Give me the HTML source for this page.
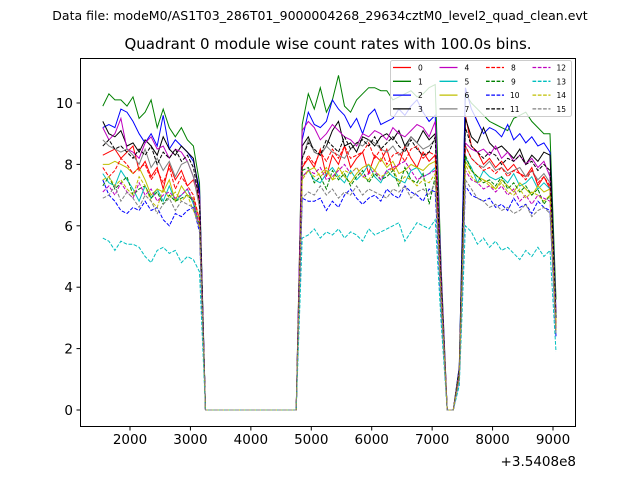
<!DOCTYPE html>
<html><head><meta charset="utf-8"><style>
body{margin:0;background:#fff;}
svg{display:block;font-family:"DejaVu Sans","Liberation Sans",sans-serif;}
</style></head><body>
<svg id="chart" width="640" height="480" viewBox="0 0 640 480">
<rect width="640" height="480" fill="#fff"/>
<text x="320" y="20" font-size="12.5" text-anchor="middle">Data file: modeM0/AS1T03_286T01_9000004268_29634cztM0_level2_quad_clean.evt</text>
<text x="328" y="49" font-size="15" text-anchor="middle">Quadrant 0 module wise count rates with 100.0s bins.</text>
<g id="plot"></g>
<g id="axes"></g>
<g id="legend"></g>
</svg>
<script>
// time bins (offset from 3.5408e8)
const startTime = 1550, binSize = 100, nBins = 76;
const xTicks = [2000,3000,4000,5000,6000,7000,8000,9000];
const yTicks = [0,2,4,6,8,10];
const seriesNames = ["0","1","2","3","4","5","6","7","8","9","10","11","12","13","14","15"];
const seriesColors = ["#ff0000","#008000","#0000ff","#000000","#bf00bf","#00bfbf","#bfbf00","#808080","#ff0000","#008000","#0000ff","#000000","#bf00bf","#00bfbf","#bfbf00","#808080"];
// segment 1: 1550..3150 ; segment 2: 4850..7050 ; segment 3: 7550..8950
const segA = [
[8.3,8.4,8.5,8.2,8.4,8.6,7.8,8.1,7.6,7.9,7.2,8.0,7.5,7.8,7.3,7.5,6.8],
[9.9,10.3,10.1,10.1,9.9,10.2,9.5,9.7,10.1,9.2,9.8,9.2,8.9,9.2,8.8,8.6,7.4],
[9.2,9.3,9.2,9.8,9.7,9.4,9.0,8.7,9.0,8.6,9.6,8.5,8.8,8.6,8.4,8.1,7.2],
[9.4,9.0,8.9,9.1,8.6,8.7,8.4,8.8,8.6,8.3,8.9,8.5,8.3,8.6,8.4,8.2,7.0],
[9.2,8.8,9.0,9.5,8.5,8.4,8.2,8.7,8.9,8.5,8.6,8.2,8.5,8.4,8.1,7.6,7.0],
[7.7,7.4,7.3,7.8,7.5,7.2,6.8,7.3,6.9,7.2,6.8,7.3,6.8,7.0,7.2,6.7,6.0],
[8.0,8.0,8.1,8.0,7.9,7.7,7.9,7.5,7.0,7.2,7.1,7.5,6.8,7.3,7.0,6.9,6.2],
[8.8,8.6,8.5,8.4,8.5,8.3,8.0,8.5,7.9,8.2,7.8,8.1,7.6,8.0,8.1,7.6,6.6],
[7.9,7.6,7.8,8.2,8.0,7.7,7.9,8.0,7.5,7.8,7.4,7.9,7.2,7.6,7.3,7.0,6.2],
[7.3,7.6,7.2,7.4,7.6,7.0,7.2,7.3,6.9,7.1,6.7,7.0,6.8,6.9,7.0,6.8,6.0],
[7.5,7.0,6.8,6.5,6.4,6.6,6.5,6.8,6.5,6.6,6.2,6.0,6.4,6.3,6.5,6.6,5.8],
[8.6,8.8,8.5,8.6,8.4,8.2,8.5,8.3,8.6,8.0,8.4,8.2,8.5,8.1,8.3,7.9,6.8],
[7.1,7.3,7.0,7.4,7.1,6.9,7.4,7.0,7.2,6.8,7.0,7.1,6.9,7.0,7.2,6.8,6.0],
[5.6,5.5,5.2,5.5,5.4,5.4,5.3,5.0,4.8,5.2,5.3,5.1,5.2,4.8,5.0,4.9,4.5],
[7.5,7.6,7.3,7.5,7.2,7.0,7.6,7.3,6.8,6.6,7.2,6.9,7.1,6.8,7.0,6.5,6.0],
[6.9,7.0,7.3,6.8,7.1,6.9,6.6,7.0,6.8,6.4,6.7,6.9,6.5,6.8,6.7,6.6,5.9]];
const segB = [
[7.9,8.2,7.9,8.5,7.6,8.3,8.0,8.6,7.9,8.2,8.4,7.7,8.3,8.1,8.5,7.8,8.0,8.6,8.2,7.9,8.4,8.1,8.3],
[9.3,10.3,9.8,10.5,9.7,10.1,10.9,9.9,9.7,10.1,10.3,10.5,10.5,10.4,10.4,10.1,10.2,10.3,10.4,10.2,10.3,10.5,10.6],
[8.8,9.7,9.3,9.2,9.4,10.1,9.8,9.6,9.2,9.5,9.0,9.6,9.8,9.3,9.4,9.5,9.8,9.6,9.9,10.1,9.7,9.4,9.6],
[8.6,8.9,8.4,8.3,8.6,9.1,9.4,8.6,8.7,8.4,8.9,8.8,8.6,8.9,9.0,8.8,9.1,8.6,8.9,8.7,9.1,8.8,9.0],
[9.1,9.4,9.2,8.8,9.0,9.3,9.1,8.9,8.8,8.6,9.0,8.9,9.1,9.0,8.8,9.2,9.0,8.9,9.1,9.3,9.2,8.9,9.4],
[7.6,7.8,7.5,7.4,7.7,7.9,7.6,7.4,7.8,7.5,7.7,8.0,7.6,7.4,7.8,7.6,7.5,7.4,7.8,7.9,7.6,7.7,7.9],
[7.6,7.8,7.9,7.6,7.8,7.5,7.9,7.6,7.4,7.7,7.9,8.0,7.8,8.2,7.9,8.1,7.7,7.8,8.0,7.9,7.8,8.0,8.1],
[8.2,8.8,8.4,8.3,8.6,8.4,8.3,8.2,8.5,8.7,8.6,8.8,8.7,8.5,8.4,8.6,8.3,8.5,8.9,8.7,8.5,8.6,8.8],
[7.9,8.3,8.0,8.4,8.1,8.5,8.2,8.6,8.2,8.3,8.4,8.7,8.2,8.5,8.0,8.3,8.4,8.1,8.5,8.6,8.2,8.4,8.3],
[7.8,7.9,7.4,7.6,7.2,7.8,7.5,7.7,7.3,7.6,7.8,7.4,7.7,7.5,7.6,7.8,7.3,7.9,7.5,7.4,7.7,6.7,7.6],
[6.9,6.8,6.8,6.9,6.5,6.8,6.6,7.0,7.2,6.9,6.7,6.9,7.0,6.8,7.2,7.0,6.9,7.3,7.1,7.0,6.8,7.2,7.1],
[8.2,8.7,8.5,8.3,8.8,8.6,8.4,8.9,8.5,8.7,8.8,8.6,8.9,8.5,8.7,8.9,8.6,8.4,8.8,8.5,8.3,8.4,8.9],
[7.6,7.8,7.7,7.9,7.5,7.6,7.8,8.0,7.7,7.9,7.6,7.7,7.8,7.5,7.8,7.9,8.0,8.1,7.8,7.5,7.6,7.7,7.8],
[5.6,5.7,5.9,5.6,5.8,5.7,5.9,5.6,5.8,5.7,5.5,5.9,5.7,5.8,5.9,6.0,6.1,5.5,5.8,6.1,6.0,5.9,6.2],
[7.5,7.8,7.6,7.7,7.9,7.5,7.6,7.8,7.7,7.9,7.6,7.5,7.8,7.6,7.7,7.9,7.4,7.6,7.5,7.3,7.5,7.4,7.7],
[6.9,7.1,7.0,7.3,7.0,7.2,6.9,7.1,7.0,7.3,7.0,7.2,7.1,7.0,6.9,7.2,7.1,7.3,6.9,7.1,7.2,7.0,7.4]];
const segC = [
[9.6,8.6,8.4,8.0,8.2,7.9,8.1,7.8,8.0,7.7,7.6,7.9,7.3,7.6,7.2],
[10.3,10.0,9.8,9.6,9.4,9.3,9.2,9.1,9.5,9.6,9.7,9.4,9.2,9.0,9.0],
[10.5,9.8,9.4,9.0,9.2,9.1,8.9,9.3,8.8,9.0,8.7,8.9,8.6,8.7,8.4],
[9.5,8.9,8.7,9.2,8.7,8.5,8.6,8.4,8.2,8.5,8.0,8.3,8.1,8.4,8.3],
[8.7,8.5,8.4,8.5,8.3,8.6,8.2,8.4,8.1,8.3,8.0,8.2,7.9,8.1,7.6],
[8.2,7.9,7.4,7.8,7.6,7.5,7.6,7.4,7.7,7.3,7.4,7.6,7.2,7.4,7.2],
[8.1,7.8,7.6,7.5,7.4,7.2,7.5,7.3,7.1,7.4,7.2,7.0,7.3,7.1,7.2],
[8.6,8.2,8.0,7.9,8.1,7.8,7.9,7.7,7.8,7.9,7.6,7.8,7.5,7.7,7.4],
[8.6,8.2,8.0,7.8,7.9,7.7,7.9,7.6,7.8,7.7,7.5,7.8,7.4,7.6,7.3],
[8.3,7.8,7.6,7.4,7.5,7.3,7.6,7.2,7.4,7.1,7.3,7.0,7.2,6.7,7.0],
[7.3,7.0,6.9,6.8,6.9,6.6,6.7,6.5,6.9,6.6,6.7,6.4,6.8,6.6,6.5],
[9.2,8.6,8.4,8.2,8.4,8.3,8.0,8.2,8.1,8.3,8.0,8.1,7.8,8.0,7.8],
[7.8,7.5,7.4,7.2,7.3,7.1,7.3,7.0,7.2,6.8,7.0,6.7,7.0,6.9,6.8],
[6.0,5.8,5.4,5.6,5.3,5.5,5.2,5.3,5.1,4.9,5.2,5.0,5.3,5.0,5.2],
[8.0,7.6,7.4,7.5,7.3,7.2,7.4,7.1,7.0,7.2,6.9,7.1,7.0,6.8,7.0],
[7.5,7.2,6.9,6.8,6.6,6.7,6.5,6.6,6.4,6.5,6.7,6.3,6.5,6.6,6.4]];
const dropB = [3.8,4.6,4.4,4.0,4.3,3.6,3.8,4.1,3.9,3.6,3.3,4.1,3.7,2.8,3.6,3.4]; // 7150 partial
const riseC = [1.2,1.4,1.4,1.3,1.3,1.1,1.2,1.3,1.2,1.1,1.0,1.3,1.1,0.8,1.1,1.0]; // 7450 partial
const endVals = [2.8,3.6,3.2,3.0,3.2,2.6,2.8,3.0,2.7,2.6,2.4,3.0,2.6,1.9,2.6,2.5]; // 9050

const X0=80,X1=576,Y0=58,Y1=427;
function xs(t){return 130+(t-2000)*0.060428;}
function ys(v){return 410-v*30.7;}
const NS="http://www.w3.org/2000/svg";
function mk(tag,attrs,parent){const e=document.createElementNS(NS,tag);for(const k in attrs)e.setAttribute(k,attrs[k]);parent.appendChild(e);return e;}

function buildSeries(i){
  const z=n=>Array(n).fill(0);
  return [].concat(segA[i], z(16), segB[i], [dropB[i]], z(2), [riseC[i]], segC[i], [endVals[i]]);
}
const plot=document.getElementById('plot');
const clip=mk('clipPath',{id:'pc'},plot);mk('rect',{x:X0,y:Y0,width:X1-X0,height:Y1-Y0},clip);
for(let i=0;i<16;i++){
  const vals=buildSeries(i);
  const pts=vals.map((v,k)=>xs(startTime+k*binSize).toFixed(1)+','+ys(v).toFixed(1)).join(' ');
  const attrs={points:pts,fill:'none',stroke:seriesColors[i],'stroke-width':1,'clip-path':'url(#pc)'};
  if(i>=8) attrs['stroke-dasharray']='3.7,1.6';
  const pl=mk('polyline',attrs,plot);
  
  
}
const axes=document.getElementById('axes');
mk('rect',{x:X0+0.5,y:Y0+0.5,width:X1-X0-1,height:Y1-Y0-1,fill:'none',stroke:'#000','stroke-width':1},axes);
xTicks.forEach(t=>{const x=xs(t);
  mk('line',{x1:x,x2:x,y1:Y1,y2:Y1+3.5,stroke:'#000'},axes);
  const tx=mk('text',{x:x,y:Y1+17,'font-size':13.5,'text-anchor':'middle'},axes);tx.textContent=t;
  
  });
yTicks.forEach(v=>{const y=ys(v);
  mk('line',{x1:X0-3.5,x2:X0,y1:y,y2:y,stroke:'#000'},axes);
  const tx=mk('text',{x:X0-7,y:y+5,'font-size':13.5,'text-anchor':'end'},axes);tx.textContent=v;
  
  });
const off=mk('text',{x:576,y:466,'font-size':13.5,'text-anchor':'end'},axes);off.textContent='+3.5408e8';


const lg=document.getElementById('legend');
mk('rect',{x:390.5,y:60.5,width:181,height:56,rx:2,fill:'#fff','fill-opacity':0.8,stroke:'#ccc'},lg);
for(let i=0;i<16;i++){
  const col=Math.floor(i/4),row=i%4;
  const x=393+col*46.5,y=67.5+row*13.8;
  const g=mk('g',{},lg);
  
  
  const la={x1:x,x2:x+18,y1:y,y2:y,stroke:seriesColors[i],'stroke-width':1.3};
  if(i>=8) la['stroke-dasharray']='3.7,1.6';
  mk('line',la,g);
  const t=mk('text',{x:x+(i>=10?24:25),y:y+3,'font-size':7.5},g);t.textContent=seriesNames[i];
}
</script>
</body></html>
